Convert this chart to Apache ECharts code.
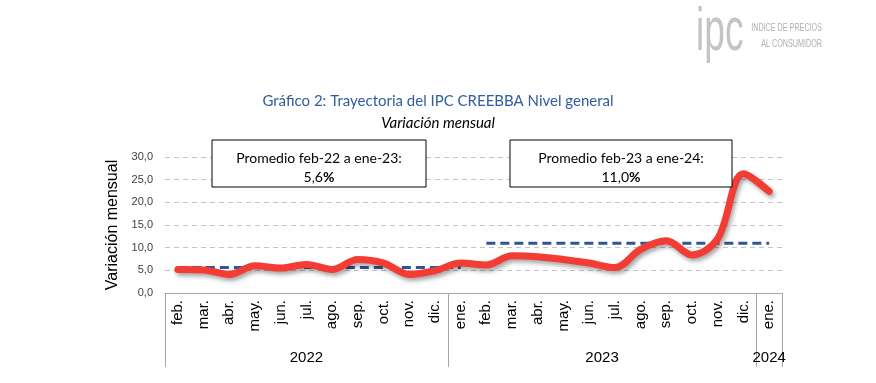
<!DOCTYPE html>
<html><head><meta charset="utf-8">
<script src="https://cdn.jsdelivr.net/npm/echarts@6/dist/echarts.min.js"></script>
<style>html,body{margin:0;padding:0;background:#fff}#c{width:876px;height:383px}</style>
</head><body><div id="c"></div>
<script>
const months = ['feb.','mar.','abr.','may.','jun.','jul.','ago.','sep.','oct.','nov.','dic.',
  'ene.','feb.','mar.','abr.','may.','jun.','jul.','ago.','sep.','oct.','nov.','dic.','ene.'];
const monthly = [5.2,5.1,4.1,6.0,5.5,6.3,5.2,7.4,6.6,4.1,4.9,6.6,6.2,8.2,8.0,7.4,6.6,5.6,9.6,11.5,8.4,12.0,26.3,22.4];
const years = ['2022','2023','2024'];
const yearCounts = [11,12,1];
const avgValues = [5.6, 11.0];
const avgRanges = [[0,11],[12,23]];
const avgLabels = ['Promedio feb-22 a ene-23:', 'Promedio feb-23 a ene-24:'];
const avgTexts = ['5,6', '11,0'];
const yTicks = [0,5,10,15,20,25,30];

const yearStarts = []; let acc = 0;
yearCounts.forEach(c => { yearStarts.push(acc); acc += c; });
const yearCenters = yearCounts.map((c,i) => yearStarts[i] + c/2);
const avgSeries = avgValues.map((v,i) => months.map((m,j) => (j>=avgRanges[i][0] && j<=avgRanges[i][1]) ? v : null));

const chart = echarts.init(document.getElementById('c'), null, {renderer:'canvas'});
const font = 'Liberation Sans';
chart.setOption({
  animation:false,
  grid:{left:165,right:94,top:157,bottom:90,containLabel:false},
  xAxis:[{
    type:'category', data:months, boundaryGap:true,
    axisLine:{show:true,lineStyle:{color:'#a6a6a6',width:1}},
    axisTick:{show:true,length:74,interval:(idx)=>yearStarts.indexOf(idx)>=0 || idx===months.length-1,lineStyle:{color:'#a6a6a6'}},
    axisLabel:{rotate:90,interval:0,fontSize:15,color:'#000',margin:7,fontFamily:font},
    splitLine:{show:false}
  },{
    type:'value', min:0, max:months.length, interval:0.5, position:'bottom',
    axisLine:{show:false}, axisTick:{show:false}, splitLine:{show:false},
    axisLabel:{show:true,margin:57,fontSize:15,color:'#000',fontFamily:font,
      formatter:(v)=>{const k=yearCenters.findIndex(c=>Math.abs(c-v)<1e-6);return k>=0?years[k]:'';},
      showMinLabel:true,showMaxLabel:true}
  }],
  yAxis:{
    type:'value', min:yTicks[0], max:yTicks[yTicks.length-1], interval:5,
    name:'Variación mensual', nameLocation:'middle', nameGap:40,
    nameTextStyle:{fontSize:16,color:'#000',fontFamily:font},
    axisLine:{show:false}, axisTick:{show:false},
    axisLabel:{fontSize:11,color:'#404040',margin:12,fontFamily:font,formatter:v=>v.toFixed(1).replace('.',',')},
    splitLine:{show:true,lineStyle:{color:'#c4c4c4',type:[5,4],width:1}}
  },
  series:[
    ...avgSeries.map(d=>({type:'line',data:d,symbol:'none',z:2,
      lineStyle:{color:'#2f5597',width:3,type:[9,5]}})),
    {type:'line',data:monthly,symbol:'none',smooth:0.35,z:3,
      lineStyle:{color:'#f23c34',width:7,cap:'round',join:'round',shadowColor:'rgba(0,0,0,0.35)',shadowBlur:4,shadowOffsetX:2,shadowOffsetY:3}}
  ],
  graphic:[
    {type:'text',left:'center',top:94,style:{text:'Gráfico 2: Trayectoria del IPC CREEBBA Nivel general',font:'15px Lato',fill:'#2f5d9e'},x:8},
    {type:'text',left:'center',top:116,style:{text:'Variación mensual',font:'italic 15px Lato',fill:'#000'},x:8},
    {type:'rect',shape:{x:212,y:140,width:214,height:47},style:{fill:'#fff',stroke:'#000',lineWidth:1},z:10},
    {type:'text',x:319,y:158,style:{text:avgLabels[0],font:'14px Lato',fill:'#000',align:'center',verticalAlign:'middle'},z:11},
    {type:'text',x:319,y:177,style:{rich:{a:{font:'14px Lato',fill:'#000'},b:{font:'bold 14px Lato',fill:'#000'}},text:'{a|'+avgTexts[0]+'}{b|%}',align:'center',verticalAlign:'middle'},z:11},
    {type:'rect',shape:{x:510,y:140,width:222,height:47},style:{fill:'#fff',stroke:'#000',lineWidth:1},z:10},
    {type:'text',x:621,y:158,style:{text:avgLabels[1],font:'14px Lato',fill:'#000',align:'center',verticalAlign:'middle'},z:11},
    {type:'text',x:621,y:177,style:{rich:{a:{font:'14px Lato',fill:'#000'},b:{font:'bold 14px Lato',fill:'#000'}},text:'{a|'+avgTexts[1]+'}{b|%}',align:'center',verticalAlign:'middle'},z:11},
    {type:'text',x:696,y:2,scaleX:0.6,style:{text:'ipc',font:'62px Liberation Sans',fill:'#c4c4c4'}},
    {type:'text',x:822,y:28,scaleX:0.72,style:{text:'INDICE DE PRECIOS',font:'10px Liberation Sans',fill:'#b0b0b0',align:'right',verticalAlign:'middle'}},
    {type:'text',x:822,y:44,scaleX:0.72,style:{text:'AL CONSUMIDOR',font:'10px Liberation Sans',fill:'#b0b0b0',align:'right',verticalAlign:'middle'}}
  ]
});
</script></body></html>
